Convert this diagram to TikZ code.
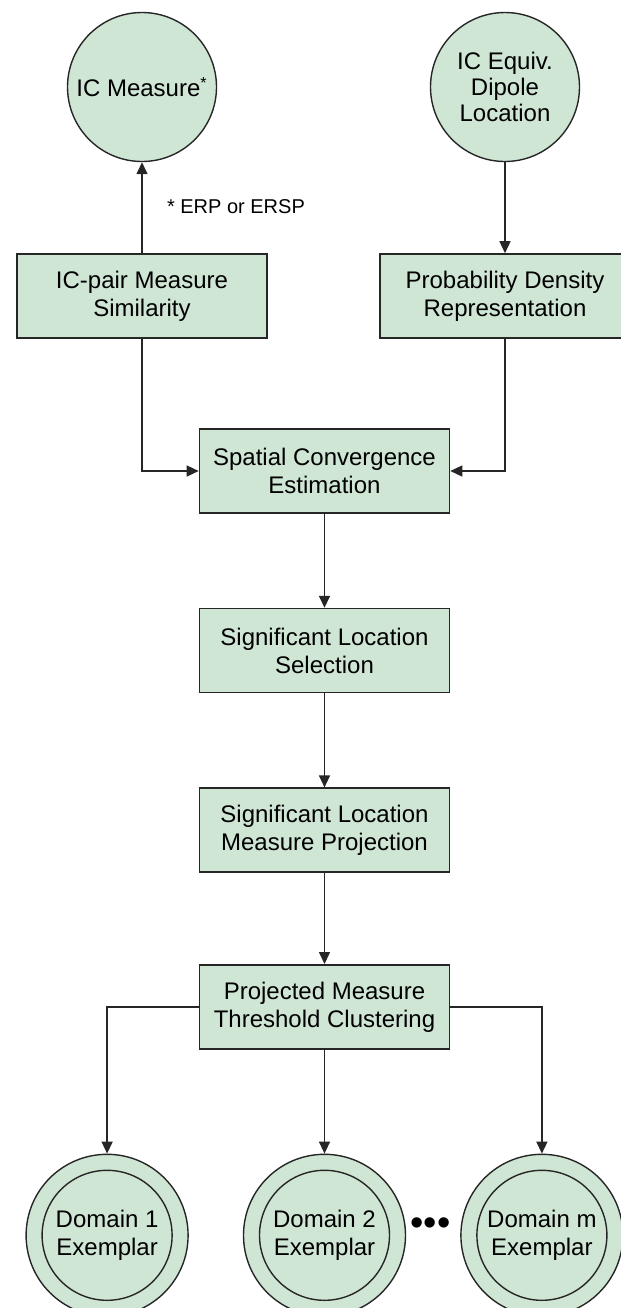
\documentclass[tikz,border=0pt]{standalone}
\usepackage{fontspec}
\setmainfont{Liberation Sans}
\usepackage{xcolor}
\usepackage{tikz}
\usetikzlibrary{positioning, arrows.meta}

\definecolor{stepfill}{HTML}{D0E6D5}
\definecolor{stepline}{HTML}{262626}

\begin{document}
\begin{tikzpicture}[
  x=0.5pt, y=-0.5pt,
  every node/.style={font=\fontsize{12}{14}\selectfont},
  stepbox/.style={
    draw=stepline, fill=stepfill, line width=0.8pt,
    minimum width=125pt, minimum height=42pt,
    inner sep=1pt, align=center
  },
  source/.style={
    circle, draw=stepline, fill=stepfill, line width=0.7pt,
    minimum size=74.5pt, inner sep=0pt, align=center
  },
  exemplar/.style={
    circle, draw=stepline, fill=stepfill, line width=0.7pt,
    minimum size=81pt, inner sep=0pt
  },
  exemplarin/.style={
    circle, draw=stepline, line width=0.7pt,
    minimum size=65pt, inner sep=0pt, align=center
  },
  flow/.style={
    draw=stepline, line width=0.75pt,
    -{Triangle[length=6pt,width=5.5pt]}
  },
]

\useasboundingbox (0,0) rectangle (621,1308);

% top inputs
\node[stepbox] (pair) at (142,296) {IC-pair Measure\\Similarity};
\node[stepbox] (prob) at (505,296) {Probability Density\\Representation};

\node[source, above=45.5pt of pair] (icm) {IC Measure\textsuperscript{*}};
\node[source, above=45.5pt of prob, font=\fontsize{12}{13}\selectfont] (ice) {IC Equiv.\\Dipole\\Location};

\node[font=\fontsize{10}{12}\selectfont, anchor=west] (note) at (160,207) {* ERP or ERSP};

% main chain
\node[stepbox] (spatial) at (324.5,471) {Spatial Convergence\\Estimation};
\node[stepbox, below=47pt of spatial] (select) {Significant Location\\Selection};
\node[stepbox, below=47pt of select] (project) {Significant Location\\Measure Projection};
\node[stepbox, below=45.5pt of project] (cluster) {Projected Measure\\Threshold Clustering};

% exemplars
\node[exemplar, below=52pt of cluster] (dom2) {};
\node[exemplar, left=27pt of dom2] (dom1) {};
\node[exemplar, right=27pt of dom2] (domm) {};
\node[exemplarin] (dom1in) at (dom1) {Domain 1\\Exemplar};
\node[exemplarin] (dom2in) at (dom2) {Domain 2\\Exemplar};
\node[exemplarin] (dommin) at (domm) {Domain m\\Exemplar};
\node[font=\fontsize{19}{19}\selectfont, inner sep=0pt] (dots) at (430.5,1227) {•••};

% connectors
\draw[flow] (pair) -- (icm);
\draw[flow] (ice) -- (prob);
\draw[flow] (pair.south) |- (spatial.west);
\draw[flow] (prob.south) |- (spatial.east);
\draw[flow] (spatial) -- (select);
\draw[flow] (select) -- (project);
\draw[flow] (project) -- (cluster);
\draw[flow] (cluster.west) -| (dom1.north);
\draw[flow] (cluster) -- (dom2);
\draw[flow] (cluster.east) -| (domm.north);

\end{tikzpicture}
\end{document}
